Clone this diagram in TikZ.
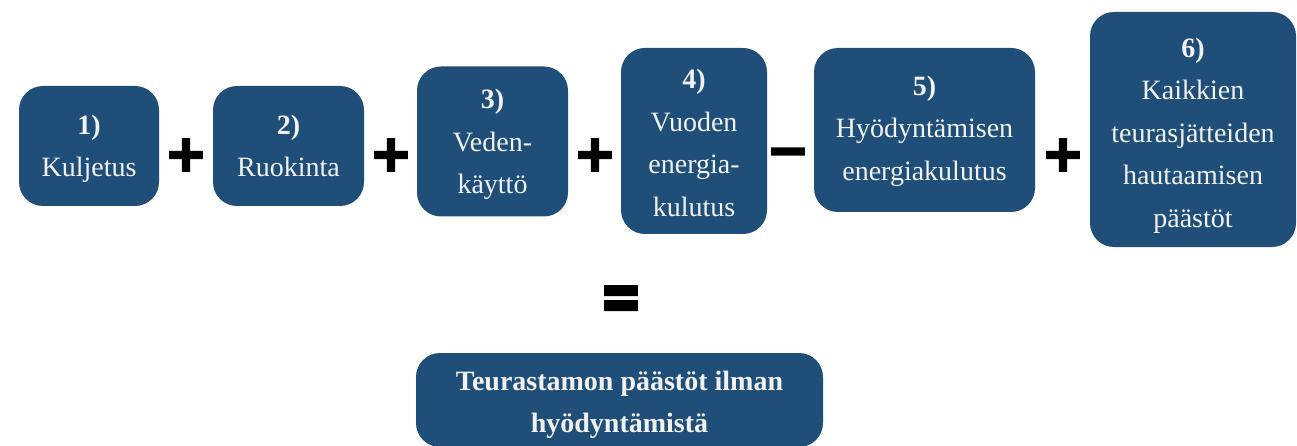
\documentclass[tikz,border=0pt]{standalone}
\usepackage{fontspec}
\usepackage{graphicx}
\setmainfont{Liberation Serif}
\newfontfamily\opfont{DejaVu Sans}[FakeBold=5]
\definecolor{boxblue}{HTML}{1F4E79}
\definecolor{boxtext}{HTML}{F2F2F2}
\tikzset{
  box/.style={fill=boxblue, rounded corners=24pt, inner sep=0pt},
  boxlabel/.style={text=boxtext, align=center, inner sep=0pt, font=\fontsize{28}{42.5}\selectfont},
  op/.style={inner sep=0pt, text=black, font=\opfont\bfseries\fontsize{50}{50}\selectfont}
}
\begin{document}
\begin{tikzpicture}[x=1pt,y=-1pt]
\useasboundingbox (0,0) rectangle (1297,446);
\node[box, minimum width=140pt, minimum height=120pt] (b1) at (89,146) {};
\node[box, minimum width=151pt, minimum height=120pt] (b2) at (288.5,146) {};
\node[box, minimum width=151pt, minimum height=150pt] (b3) at (492.5,141.5) {};
\node[box, minimum width=146pt, minimum height=186pt] (b4) at (694,141) {};
\node[box, minimum width=221pt, minimum height=164pt] (b5) at (924.5,130) {};
\node[box, minimum width=206pt, minimum height=235pt] (b6) at (1193,129.5) {};
\node[box, minimum width=407pt, minimum height=94pt] (b7) at (619.5,400) {};
\node[boxlabel, yshift=-3pt] (t1) at (b1.center) {\textbf{1)}\\Kuljetus};
\node[boxlabel] (t2) at (b2.center) {\textbf{2)}\\Ruokinta};
\node[boxlabel, yshift=-3pt] (t3) at (b3.center) {\textbf{3)}\\Veden-\\käyttö};
\node[boxlabel, yshift=-2pt] (t4) at (b4.center) {\textbf{4)}\\Vuoden\\energia-\\kulutus};
\node[boxlabel, yshift=-1pt] (t5) at (b5.center) {\textbf{5)}\\Hyödyntämisen\\energiakulutus};
\node[boxlabel, yshift=-6pt] (t6) at (b6.center) {\textbf{6)}\\Kaikkien\\teurasjätteiden\\hautaamisen\\päästöt};
\node[boxlabel, yshift=-5pt, font=\bfseries\fontsize{28}{42}\selectfont] (t7) at (b7.center) {Teurastamon päästöt ilman\\hyödyntämistä};
\node[op] (p1) at (186,155) {+};
\node[op] (p2) at (391,155) {+};
\node[op] (p3) at (595,155) {+};
\node[op] (m1) at (788,158) {−};
\node[op] (p4) at (1063,155) {+};
\node[op] (eq) at (621,303) {\scalebox{1}[1.35]{=}};
\end{tikzpicture}
\end{document}
